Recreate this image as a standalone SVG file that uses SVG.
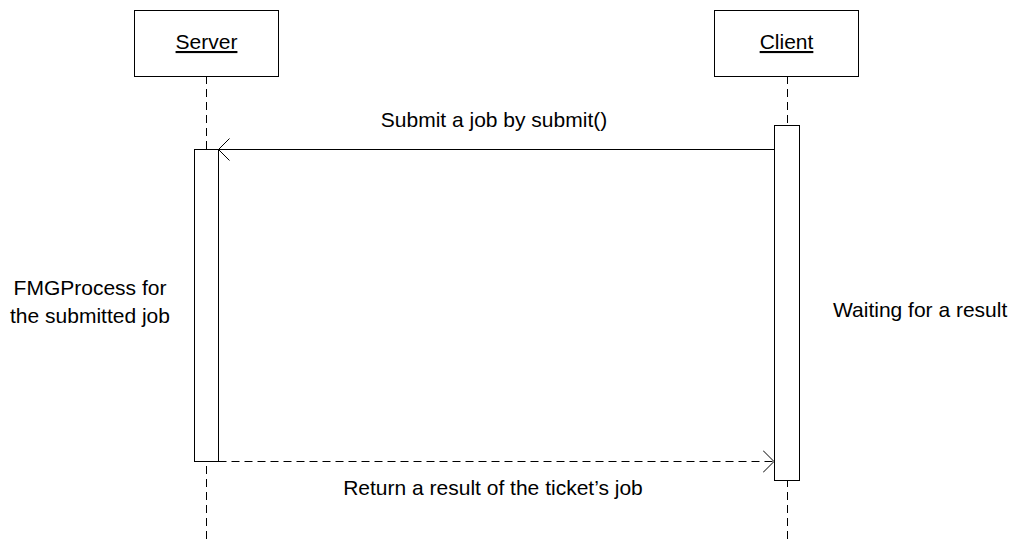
<svg xmlns="http://www.w3.org/2000/svg" width="1018" height="542" viewBox="0 0 1018 542">
  <style>
    .box { fill: #ffffff; stroke: #000000; stroke-width: 1; }
    .life { stroke: #000000; stroke-width: 1; stroke-dasharray: 8 5; fill: none; }
    .msg { stroke: #000000; stroke-width: 1; fill: none; }
    .ret { stroke: #000000; stroke-width: 1; stroke-dasharray: 8 5; fill: none; }
    .head { stroke: #000000; stroke-width: 1; fill: none; }
    text { font-family: "Liberation Sans", Arial, sans-serif; font-size: 21px; fill: #000000; }
    .name { text-decoration: underline; }
  </style>
  <defs>
    <marker id="open" viewBox="0 0 12 24" refX="11" refY="12" markerWidth="12" markerHeight="24" markerUnits="userSpaceOnUse" orient="auto">
      <path class="head" d="M0,1 L11,12 L0,23"/>
    </marker>
  </defs>

  <!-- lifelines -->
  <g id="lifelines">
    <line class="life" x1="206.5" y1="76" x2="206.5" y2="542"/>
    <line class="life" x1="787.5" y1="76" x2="787.5" y2="542"/>
  </g>

  <g id="server">
    <rect class="box" x="134.5" y="10.5" width="144" height="66"/>
    <text class="name" x="206.5" y="49" text-anchor="middle">Server</text>
  </g>

  <g id="client">
    <rect class="box" x="714.5" y="10.5" width="144" height="66"/>
    <text class="name" x="786.5" y="49" text-anchor="middle">Client</text>
  </g>

  <g id="server-activation">
    <rect class="box" x="194.5" y="149.5" width="24" height="312"/>
  </g>

  <g id="client-activation">
    <rect class="box" x="774.5" y="125.5" width="25" height="355"/>
  </g>

  <g id="connectors">
    <line class="msg" x1="774" y1="149.5" x2="218.5" y2="149.5" marker-end="url(#open)"/>
    <line class="ret" x1="218.5" y1="461.5" x2="774" y2="461.5" marker-end="url(#open)"/>
  </g>

  <g id="labels">
    <text x="494" y="127" text-anchor="middle">Submit a job by submit()</text>
    <text x="493" y="495" text-anchor="middle">Return a result of the ticket’s job</text>
    <text x="90" y="295" text-anchor="middle">FMGProcess for</text>
    <text x="90" y="323" text-anchor="middle">the submitted job</text>
    <text x="833" y="317">Waiting for a result</text>
  </g>
</svg>
